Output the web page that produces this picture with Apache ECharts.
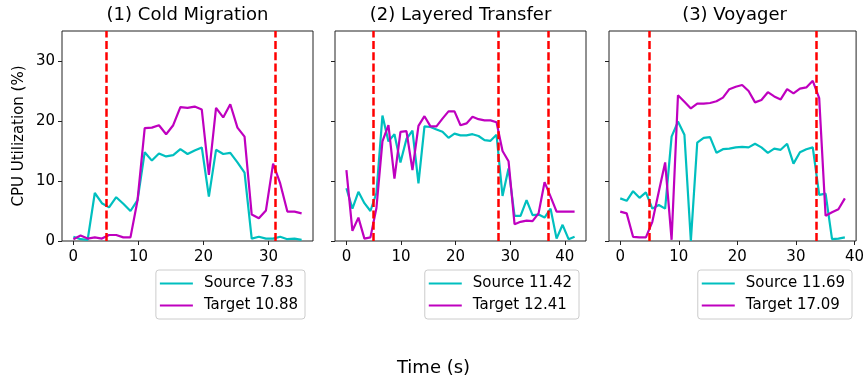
<!DOCTYPE html>
<html><head><meta charset="utf-8">
<script src="https://cdn.jsdelivr.net/npm/echarts@6/dist/echarts.min.js"></script>
<style>html,body{margin:0;padding:0;background:#fff}#c{width:867px;height:383px}</style>
</head><body><div id="c"></div>
<script>
// ---- data ----
const panelTitles = ['(1) Cold Migration', '(2) Layered Transfer', '(3) Voyager'];
const t1 = [0, 1.10, 2.19, 3.29, 4.38, 5.48, 6.58, 7.67, 8.77, 9.86, 10.96, 12.06, 13.15, 14.25, 15.34, 16.44, 17.54, 18.63, 19.73, 20.82, 21.92, 23.02, 24.11, 25.21, 26.30, 27.40, 28.50, 29.59, 30.69, 31.78, 32.88, 33.98, 35.07];
const source1 = [0.7, 0.3, 0.2, 8.0, 6.3, 5.6, 7.3, 6.2, 5.0, 6.8, 14.8, 13.4, 14.6, 14.1, 14.3, 15.3, 14.5, 15.1, 15.6, 7.4, 15.2, 14.5, 14.7, 13.1, 11.4, 0.4, 0.7, 0.4, 0.4, 0.7, 0.3, 0.4, 0.2];
const target1 = [0.3, 0.9, 0.4, 0.6, 0.4, 1.0, 1.0, 0.6, 0.6, 6.8, 18.8, 18.9, 19.3, 17.8, 19.3, 22.3, 22.2, 22.4, 21.9, 11.0, 22.2, 20.6, 22.8, 18.9, 17.4, 4.4, 3.8, 5.1, 12.9, 9.6, 4.9, 4.9, 4.6];
const t2 = [0, 1.1, 2.2, 3.3, 4.4, 5.5, 6.6, 7.7, 8.8, 9.9, 11.0, 12.1, 13.2, 14.3, 15.4, 16.5, 17.6, 18.7, 19.8, 20.9, 22.0, 23.1, 24.2, 25.3, 26.4, 27.5, 28.6, 29.7, 30.8, 31.9, 33.0, 34.1, 35.2, 36.3, 37.4, 38.5, 39.6, 40.7, 41.8];
const source2 = [8.8, 5.4, 8.2, 6.3, 5.0, 8.0, 20.9, 16.6, 17.8, 13.1, 17.0, 18.4, 9.6, 19.1, 19.0, 18.6, 18.2, 17.2, 17.9, 17.6, 17.6, 17.8, 17.5, 16.8, 16.7, 17.7, 7.5, 12.1, 4.2, 4.2, 6.8, 4.3, 4.4, 3.9, 5.4, 0.4, 2.7, 0.3, 0.7];
const target2 = [11.8, 1.7, 3.9, 0.4, 0.6, 5.5, 16.6, 19.3, 10.4, 18.2, 18.3, 11.8, 19.2, 20.8, 19.1, 19.1, 20.4, 21.6, 21.6, 19.3, 19.6, 20.7, 20.3, 20.1, 20.1, 19.8, 15.0, 13.3, 2.8, 3.2, 3.4, 3.3, 4.6, 9.8, 7.4, 4.9, 4.9, 4.9, 4.9];
const t3 = [0, 1.10, 2.19, 3.29, 4.38, 5.48, 6.58, 7.67, 8.77, 9.86, 10.96, 12.06, 13.15, 14.25, 15.34, 16.44, 17.54, 18.63, 19.73, 20.82, 21.92, 23.02, 24.11, 25.21, 26.30, 27.40, 28.50, 29.59, 30.69, 31.78, 32.88, 33.98, 35.07, 36.17, 37.26, 38.36];
const source3 = [7.1, 6.7, 8.3, 7.2, 8.1, 5.4, 6.0, 5.4, 17.4, 19.9, 17.7, 0.0, 16.4, 17.2, 17.3, 14.7, 15.3, 15.4, 15.6, 15.7, 15.6, 16.2, 15.6, 14.7, 15.4, 15.2, 16.2, 12.9, 14.8, 15.3, 15.6, 7.7, 7.9, 0.3, 0.4, 0.6];
const target3 = [4.9, 4.6, 0.7, 0.6, 0.6, 3.2, 8.2, 13.1, 0.2, 24.3, 23.2, 22.1, 22.9, 22.9, 23.0, 23.3, 23.9, 25.3, 25.7, 26.0, 25.0, 23.1, 23.5, 24.8, 24.1, 23.6, 25.3, 24.6, 25.4, 25.6, 26.7, 23.8, 4.2, 4.8, 5.3, 7.1];
const sourceNames = ['Source 7.83', 'Source 11.42', 'Source 11.69'];
const targetNames = ['Target 10.88', 'Target 12.41', 'Target 17.09'];
const markers1 = [5, 31];
const markers2 = [5, 27.8, 36.9];
const markers3 = [5, 33.4];
const xTicks1 = [0, 10, 20, 30];
const xTicks2 = [0, 10, 20, 30, 40];
const xTicks3 = [0, 10, 20, 30, 40];
const yTicks = [0, 10, 20, 30];
const xRanges = [[-1.75, 36.82], [-2.09, 43.89], [-1.92, 40.28]];
const yRange = [0, 35];

// ---- chart ----
const FONT = 'DejaVu Sans';
const times = [t1, t2, t3];
const sources = [source1, source2, source3];
const targets = [target1, target2, target3];
const markers = [markers1, markers2, markers3];
const xTicks = [xTicks1, xTicks2, xTicks3];
const gridLefts = [62, 335, 609];
const legendRights = [562, 288, 15];

const zip = (t, v) => t.map((x, i) => [x, v[i]]);

const grid = gridLefts.map(l => ({
  left: l, top: 31, width: 251, height: 210,
  show: true, borderColor: '#222', borderWidth: 1, backgroundColor: 'transparent'
}));

const xAxis = [0, 1, 2].map(i => ({
  type: 'value', gridIndex: i, min: xRanges[i][0], max: xRanges[i][1],
  axisLine: { show: false, onZero: false },
  splitLine: { show: false },
  axisTick: { show: true, length: 4, lineStyle: { color: '#222', width: 1 }, customValues: xTicks[i] },
  axisLabel: { show: true, customValues: xTicks[i], margin: 9, fontSize: 15, color: '#000', fontFamily: FONT }
}));

const yAxis = [0, 1, 2].map(i => ({
  type: 'value', gridIndex: i, min: yRange[0], max: yRange[1],
  axisLine: { show: false, onZero: false },
  splitLine: { show: false },
  axisTick: { show: true, length: 4, lineStyle: { color: '#222', width: 1 }, customValues: yTicks },
  axisLabel: { show: i === 0, customValues: yTicks, margin: 7, fontSize: 15, color: '#000', fontFamily: FONT },
  name: i === 0 ? 'CPU Utilization (%)' : '',
  nameLocation: 'middle', nameGap: 35,
  nameTextStyle: { fontSize: 15, color: '#000', fontFamily: FONT }
}));

const series = [];
for (let i = 0; i < 3; i++) {
  series.push({
    type: 'line', name: sourceNames[i], xAxisIndex: i, yAxisIndex: i,
    data: zip(times[i], sources[i]), showSymbol: false, symbol: 'none',
    lineStyle: { color: '#00bfbf', width: 2.2 }, itemStyle: { color: '#00bfbf' }, z: 2
  });
  series.push({
    type: 'line', name: targetNames[i], xAxisIndex: i, yAxisIndex: i,
    data: zip(times[i], targets[i]), showSymbol: false, symbol: 'none',
    lineStyle: { color: '#bf00bf', width: 2.2 }, itemStyle: { color: '#bf00bf' }, z: 3
  });
  series.push({
    type: 'line', name: 'markers' + i, xAxisIndex: i, yAxisIndex: i, data: [], z: 4,
    markLine: {
      silent: true, symbol: ['none', 'none'], label: { show: false },
      lineStyle: { color: '#ff0000', width: 2.5, type: [8, 3.3] },
      data: markers[i].map(v => ({ xAxis: v }))
    }
  });
}

const legend = [0, 1, 2].map(i => ({
  orient: 'vertical', right: legendRights[i], top: 270,
  data: [sourceNames[i], targetNames[i]],
  icon: 'rect', itemWidth: 33, itemHeight: 2, itemGap: 5,
  padding: [5, 7, 5, 4],
  backgroundColor: '#fff', borderColor: '#cccccc', borderWidth: 1, borderRadius: 3,
  textStyle: { fontSize: 15, lineHeight: 17, color: '#000', fontFamily: FONT, padding: [0, 0, 0, 6] },
  selectedMode: false
}));

const title = panelTitles.map((txt, i) => ({
  text: txt, left: gridLefts[i] + 125.5, top: 6, textAlign: 'center', padding: 0,
  textStyle: { fontSize: 18, fontWeight: 'normal', color: '#000', fontFamily: FONT }
}));
title.push({
  text: 'Time (s)', left: 433.5, top: 359, textAlign: 'center', padding: 0,
  textStyle: { fontSize: 18, fontWeight: 'normal', color: '#000', fontFamily: FONT }
});

const chart = echarts.init(document.getElementById('c'), null, { renderer: 'canvas' });
chart.setOption({
  animation: false,
  backgroundColor: '#fff',
  textStyle: { fontFamily: FONT },
  title, grid, xAxis, yAxis, legend, series
});
</script></body></html>
